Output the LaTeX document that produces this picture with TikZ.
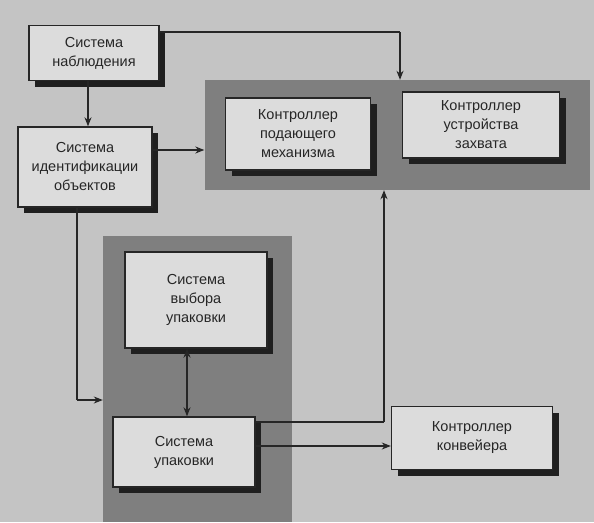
\documentclass[tikz,border=0pt]{standalone}
\usepackage{fontspec}
\setmainfont{Liberation Sans}
\usetikzlibrary{shadows,arrows.meta}
\definecolor{paper}{HTML}{C4C4C4}
\definecolor{boxfill}{HTML}{DCDCDC}
\definecolor{bandfill}{HTML}{7F7F7F}
\definecolor{ink}{HTML}{262626}
\begin{document}
\begin{tikzpicture}[x=1pt,y=-1pt,
  box/.style={draw=ink, line width=1.4pt, fill=boxfill, align=center,
    text=ink, font=\fontsize{14.5}{19}\selectfont, inner sep=2pt,
    general shadow={shadow xshift=6pt, shadow yshift=-6pt, fill=black!88}},
  band/.style={fill=bandfill, draw=none, inner sep=0pt},
  conn/.style={draw=ink, line width=1.2pt},
  arr/.style={conn, -{Stealth[length=9pt,width=7pt]}},
  arr2/.style={conn, {Stealth[length=9pt,width=7pt]}-{Stealth[length=9pt,width=7pt]}}]

% paper
\fill[paper] (0,0) rectangle (594,522);
\useasboundingbox (0,0) rectangle (594,522);

% shaded groups
\node[band, minimum width=385pt, minimum height=110pt] (bandTop) at (397,135) {};
\node[band, minimum width=189pt, minimum height=286pt] (bandBot) at (197.5,379) {};

% blocks
\node[box, minimum width=130pt, minimum height=55pt] (nab) at (94,53)
  {Система\\наблюдения};
\node[box, minimum width=134pt, minimum height=80pt] (ident) at (85,167)
  {Система\\идентификации\\объектов};
\node[box, minimum width=145pt, minimum height=72pt] (ctrlA) at (298,134)
  {Контроллер\\подающего\\механизма};
\node[box, minimum width=157pt, minimum height=66pt] (ctrlB) at (481,125)
  {Контроллер\\устройства\\захвата};
\node[box, minimum width=142pt, minimum height=96pt] (vybor) at (196,300)
  {Система\\выбора\\упаковки};
\node[box, minimum width=142pt, minimum height=70pt] (upak) at (184,452)
  {Система\\упаковки};
\node[box, minimum width=161pt, minimum height=63pt] (konv) at (472,438)
  {Контроллер\\конвейера};

% turning points
\coordinate (c1) at (400,32);
\coordinate (c2) at (77,400);
\coordinate (c3) at (384,422);

% connectors
\draw[conn] (nab.east |- c1) -- (c1);
\draw[arr] (c1) -- (c1 |- bandTop.north);
\draw[arr] (88,0 |- nab.south) -- (88,0 |- ident.north);
\draw[arr] (ident.east |- 0,150) -- (bandTop.west |- 0,150);
\draw[conn] (c2 |- ident.south) -- (c2);
\draw[arr] (c2) -- (c2 -| bandBot.west);
\draw[arr2] (187,0 |- vybor.south) -- (187,0 |- upak.north);
\draw[conn] (upak.east |- c3) -- (c3);
\draw[arr] (c3) -- (c3 |- bandTop.south);
\draw[arr] (upak.east |- 0,446) -- (konv.west |- 0,446);
\end{tikzpicture}
\end{document}
